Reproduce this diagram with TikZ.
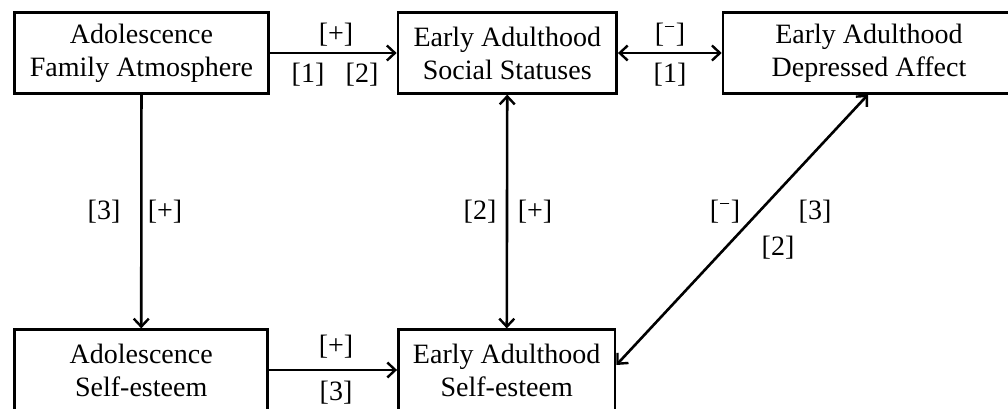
\documentclass[tikz,border=0pt]{standalone}
\usepackage{fontspec}
\setmainfont{Liberation Serif}
\usetikzlibrary{arrows.meta}
\newcommand{\negsign}{[\textsuperscript{−}]}
\begin{document}
\begin{tikzpicture}[x=1pt,y=-1pt,
  txt/.style={font=\fontsize{28}{33}\selectfont},
  box/.style={txt, draw, line width=2.6pt, minimum height=80.6pt, align=center, inner sep=0pt},
  lbl/.style={txt, inner sep=0pt},
  tip/.tip={Straight Barb[length=8pt,width=15pt,line width=2.4pt]},
  link/.style={line width=2.6pt, -tip},
  dlink/.style={line width=2.6pt, tip-tip}]
\useasboundingbox (0,0) rectangle (1008,409);
\clip (0,0) rectangle (1008,409);

% boxes
\node[box, minimum width=253.6pt] (A) at (141.5,53) {Adolescence\\Family Atmosphere};
\node[box, minimum width=218.7pt] (B) at (507.3,53) {Early Adulthood\\Social Statuses};
\node[box, minimum width=292pt]   (C) at (869,53) {Early Adulthood\\Depressed Affect};
\node[box, minimum width=253pt]   (D) at (141.2,370) {Adolescence\\Self-esteem};
\node[box, minimum width=216.7pt] (E) at (506.7,370) {Early Adulthood\\Self-esteem};

% connectors
\draw[link]  (A) -- (B);
\draw[dlink] (B) -- (C);
\draw[link]  (A) -- (D);
\draw[dlink] (B) -- (E);
\draw[link]  (D) -- (E);
\draw[dlink] ([xshift=-1pt]C.south) -- ([yshift=5pt]E.east);

% path labels
\node[lbl] (l1) at (336,35) {[+]};
\node[lbl] (l2) at (308,75) {[1]};
\node[lbl] (l3) at (362,75) {[2]};
\node[lbl] (l4) at (670,35) {\negsign};
\node[lbl] (l5) at (670,75) {[1]};
\node[lbl] (l6) at (104,212) {[3]};
\node[lbl] (l7) at (165,212) {[+]};
\node[lbl] (l8) at (480,212) {[2]};
\node[lbl] (l9) at (535,212) {[+]};
\node[lbl] (l10) at (336,347) {[+]};
\node[lbl] (l11) at (336,393) {[3]};
\node[lbl] (l12) at (725,212) {\negsign};
\node[lbl] (l13) at (815,212) {[3]};
\node[lbl] (l14) at (778,248) {[2]};
\end{tikzpicture}
\end{document}
